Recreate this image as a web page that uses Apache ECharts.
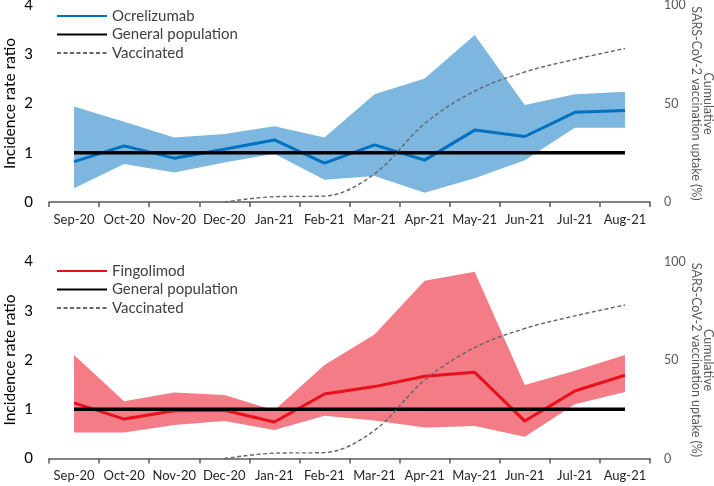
<!DOCTYPE html>
<html>
<head>
<meta charset="utf-8">
<script src="https://cdn.jsdelivr.net/npm/echarts@6/dist/echarts.min.js"></script>
<style>html,body{margin:0;padding:0;background:#fff}#c{width:714px;height:486px}</style>
</head>
<body>
<div id="c"></div>
<script>
var months = ['Sep-20','Oct-20','Nov-20','Dec-20','Jan-21','Feb-21','Mar-21','Apr-21','May-21','Jun-21','Jul-21','Aug-21'];
var leftTicks = [0, 1, 2, 3, 4];
var rightTicks = [0, 50, 100];

var ocrelizumab      = [0.82, 1.14, 0.89, 1.07, 1.26, 0.79, 1.16, 0.85, 1.46, 1.33, 1.82, 1.86];
var ocrelizumabUpper = [1.94, 1.63, 1.31, 1.38, 1.54, 1.31, 2.19, 2.51, 3.39, 1.97, 2.19, 2.24];
var ocrelizumabLower = [0.28, 0.77, 0.60, 0.80, 0.98, 0.45, 0.53, 0.19, 0.48, 0.85, 1.51, 1.51];

var fingolimod      = [1.13, 0.80, 0.97, 0.98, 0.74, 1.31, 1.46, 1.67, 1.75, 0.76, 1.37, 1.69];
var fingolimodUpper = [2.10, 1.16, 1.34, 1.29, 0.98, 1.90, 2.52, 3.61, 3.79, 1.49, 1.78, 2.10];
var fingolimodLower = [0.53, 0.53, 0.68, 0.76, 0.58, 0.87, 0.77, 0.63, 0.66, 0.44, 1.10, 1.35];

var generalPopulation = [1, 1, 1, 1, 1, 1, 1, 1, 1, 1, 1, 1];
var vaccinated = [null, null, null, 0, 2.7, 3, 14.3, 39.8, 56.3, 66, 72.4, 77.9];

var FONT = 'Lato';
var chart = echarts.init(document.getElementById('c'));

function diff(u, l) { return u.map(function (v, i) { return +(v - l[i]).toFixed(3); }); }

function xAxis(gi) {
  return {
    type: 'category', gridIndex: gi, data: months, boundaryGap: true,
    axisLine: { lineStyle: { color: '#595959', width: 1.5 } },
    axisTick: { show: true, length: 5, alignWithLabel: false, lineStyle: { color: '#595959', width: 1.5 } },
    axisLabel: { color: '#262626', fontSize: 13, fontFamily: FONT, margin: 11, interval: 0 }
  };
}
function yLeft(gi) {
  return {
    type: 'value', gridIndex: gi, min: 0, max: 4, interval: 1,
    name: 'Incidence rate ratio', nameLocation: 'middle', nameGap: 31, nameMoveOverlap: false,
    nameTextStyle: { color: '#000', fontSize: 15.5, fontFamily: FONT },
    axisLine: { show: false }, axisTick: { show: false }, splitLine: { show: false },
    axisLabel: { color: '#000', fontSize: 15, fontFamily: FONT, margin: 16,
      formatter: function (v) { return leftTicks.indexOf(v) >= 0 ? String(v) : ''; } }
  };
}
function yRight(gi) {
  return {
    type: 'value', gridIndex: gi, min: 0, max: 100, interval: 50, position: 'right',
    name: 'Cumulative\nSARS-CoV-2 vaccination uptake (%)', nameLocation: 'middle', nameGap: 40, nameRotate: -90,
    nameMoveOverlap: false,
    nameTextStyle: { color: '#595959', fontSize: 12.5, fontFamily: FONT, lineHeight: 12 },
    axisLine: { show: false }, axisTick: { show: false }, splitLine: { show: false },
    axisLabel: { color: '#595959', fontSize: 12.5, fontFamily: FONT, margin: 14,
      formatter: function (v) { return rightTicks.indexOf(v) >= 0 ? String(v) : ''; } }
  };
}

function panel(gi, name, main, upper, lower, lineColor, bandColor) {
  var xi = gi, yl = gi * 2, yr = gi * 2 + 1, st = 'band' + gi;
  return [
    { type: 'line', name: name + ' lower', xAxisIndex: xi, yAxisIndex: yl, data: lower, stack: st,
      symbol: 'none', lineStyle: { width: 0, opacity: 0 }, silent: true, z: 1 },
    { type: 'line', name: name + ' CI', xAxisIndex: xi, yAxisIndex: yl, data: diff(upper, lower), stack: st,
      symbol: 'none', lineStyle: { width: 0, opacity: 0 }, areaStyle: { color: bandColor, opacity: 1 }, silent: true, z: 1 },
    { type: 'line', name: name, xAxisIndex: xi, yAxisIndex: yl, data: main, symbol: 'none',
      lineStyle: { color: lineColor, width: 3 }, itemStyle: { color: lineColor }, z: 3 },
    { type: 'line', name: 'General population', xAxisIndex: xi, yAxisIndex: yl, data: generalPopulation, symbol: 'none',
      lineStyle: { color: '#000', width: 3.5 }, itemStyle: { color: '#000' }, z: 4 },
    { type: 'line', name: 'Vaccinated', xAxisIndex: xi, yAxisIndex: yr, data: vaccinated, symbol: 'none', smooth: 0.35,
      lineStyle: { color: '#666', width: 1.4, type: [4, 2.5] }, itemStyle: { color: '#666' }, z: 5 }
  ];
}

function legend(top, first) {
  return {
    top: top, left: 56, padding: 0, orient: 'vertical', itemWidth: 50, itemHeight: 14, itemGap: 2.5,
    data: [first, 'General population', 'Vaccinated'],
    itemStyle: { opacity: 0 },
    textStyle: { color: '#404040', fontSize: 15, lineHeight: 16, fontFamily: FONT },
    selectedMode: false
  };
}

chart.setOption({
  animation: false,
  grid: [
    { left: 49, right: 64, top: 5, height: 197, outerBoundsMode: 'none', containLabel: false },
    { left: 49, right: 64, top: 261.5, height: 197, outerBoundsMode: 'none', containLabel: false }
  ],
  legend: [legend(8, 'Ocrelizumab'), legend(263, 'Fingolimod')],
  xAxis: [xAxis(0), xAxis(1)],
  yAxis: [yLeft(0), yRight(0), yLeft(1), yRight(1)],
  series: [].concat(
    panel(0, 'Ocrelizumab', ocrelizumab, ocrelizumabUpper, ocrelizumabLower, '#0070C0', '#7DB7E0'),
    panel(1, 'Fingolimod', fingolimod, fingolimodUpper, fingolimodLower, '#E8101A', '#F37C87')
  )
});
</script>
</body>
</html>
